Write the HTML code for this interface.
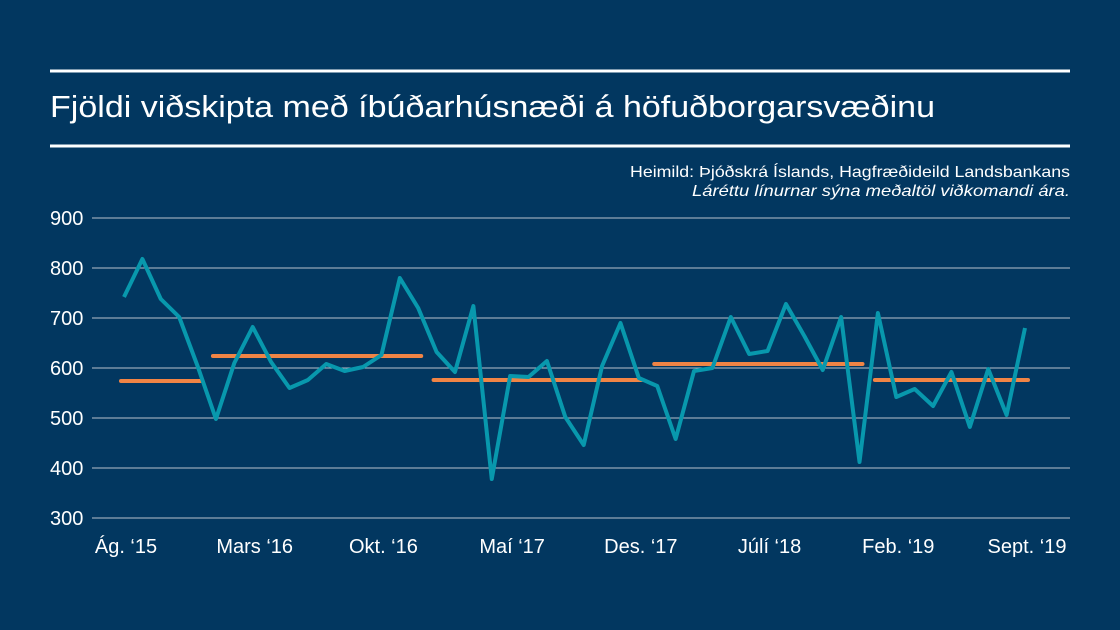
<!DOCTYPE html>
<html><head><meta charset="utf-8"><style>
body{margin:0;background:#023760;}
svg{display:block}
text{font-family:"Liberation Sans",sans-serif;fill:#fff}
</style></head><body>
<svg width="1120" height="630">
<rect width="1120" height="630" fill="#023760"/>
<line x1="50" x2="1070" y1="71" y2="71" stroke="#fff" stroke-width="3"/>
<line x1="50" x2="1070" y1="146" y2="146" stroke="#fff" stroke-width="3"/>
<text x="50" y="117" font-size="31" textLength="885" lengthAdjust="spacingAndGlyphs">Fjöldi viðskipta með íbúðarhúsnæði á höfuðborgarsvæðinu</text>
<text x="1070" y="177" font-size="16" text-anchor="end" font-family="Liberation Serif" textLength="440" lengthAdjust="spacingAndGlyphs">Heimild: Þjóðskrá Íslands, Hagfræðideild Landsbankans</text>
<text x="1070" y="196" font-size="16" text-anchor="end" font-family="Liberation Serif" font-style="italic" textLength="378" lengthAdjust="spacingAndGlyphs">Láréttu línurnar sýna meðaltöl viðkomandi ára.</text>
<g id="grid"></g><g id="avg"></g><g id="line"></g><g id="xl"></g>
</svg>
<script>
const yTicks=[300,400,500,600,700,800,900];
const values=[742,818,738,702,604,498,610,682,612,560,576,608,594,602,626,780,720,632,592,724,378,584,582,614,502,446,604,690,580,564,458,594,600,702,628,634,728,664,596,702,412,710,542,558,524,592,482,598,506,680];
const xLabels=["Ág. ‘15","Mars ‘16","Okt. ‘16","Maí ‘17","Des. ‘17","Júlí ‘18","Feb. ‘19","Sept. ‘19"];
const xLabelIdx=[0,7,14,21,28,35,42,49];
const avgStart=[0,5,17,29,41];
const avgEnd=[4,16,28,40,49];
const avgValues=[574,624,576,608,576];
const NS="http://www.w3.org/2000/svg";
const X=i=>124+i*(1025-124)/49;
const Y=v=>518-(v-300)*0.5;
function mk(t,a,p){const e=document.createElementNS(NS,t);for(const k in a)e.setAttribute(k,a[k]);document.getElementById(p).appendChild(e);return e;}
yTicks.forEach(v=>{
 const l=mk('line',{x1:92,x2:1070,y1:Y(v),y2:Y(v),stroke:'#b8c2cc','stroke-width':1},'grid');
 
 
 const t=mk('text',{x:50,y:Y(v)+7,'font-size':20},'grid');t.textContent=v;
 
 
});
avgValues.forEach((v,k)=>{
 const l=mk('line',{x1:X(avgStart[k])-3,x2:X(avgEnd[k])+3,y1:Y(v),y2:Y(v),stroke:'#f08445','stroke-width':4,'stroke-linecap':'round'},'avg');
 
 
});
const p=mk('polyline',{points:values.map((v,i)=>X(i)+','+Y(v)).join(' '),fill:'none',stroke:'#0898ad','stroke-width':4,'stroke-linejoin':'round'},'line');


xLabels.forEach((s,k)=>{
 const t=mk('text',{x:X(xLabelIdx[k])+2,y:553,'font-size':20,'text-anchor':'middle'},'xl');t.textContent=s;
 
 
});
</script>
</body></html>
